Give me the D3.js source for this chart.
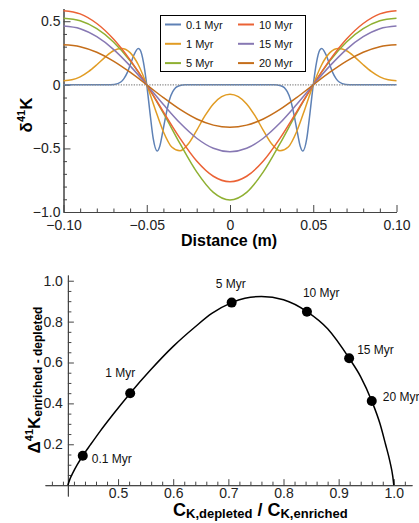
<!DOCTYPE html>
<html>
<head>
<meta charset="utf-8">
<script src="https://cdn.jsdelivr.net/npm/d3@7"></script>
<style>
body { margin: 0; background: #fff; }
svg { font-family: "Liberation Sans", Arial, sans-serif; }
.axis path, .axis line { stroke: #444; }
.axis text { fill: #222; font-size: 14px; }
</style>
</head>
<body>
<div id="chart"></div>
<script>

// ---- data: delta41K profiles (top panel) ----
var ages = ["0.1 Myr", "1 Myr", "5 Myr", "10 Myr", "15 Myr", "20 Myr"];

var distBlue = [-0.1, -0.074, -0.0695, -0.0656, -0.0637, -0.0617, -0.0598, -0.0578, -0.0551, -0.0539, -0.052,
	-0.05, -0.048, -0.0461, -0.0438, -0.0422, -0.0403, -0.0383, -0.0364, -0.0344, -0.0305, -0.0266,
	0,
	0.0266, 0.0305, 0.0344, 0.0364, 0.0383, 0.0403, 0.0422, 0.0438, 0.0461, 0.048, 0.05,
	0.052, 0.0539, 0.0551, 0.0578, 0.0598, 0.0617, 0.0637, 0.0656, 0.0695, 0.074, 0.1];
var delta01 = [0, 0, 0.003, 0.022, 0.049, 0.096, 0.161, 0.232, 0.286, 0.272, 0.179,
	0, -0.226, -0.424, -0.521, -0.484, -0.363, -0.226, -0.119, -0.053, -0.007, 0,
	0,
	0, -0.007, -0.053, -0.119, -0.226, -0.363, -0.484, -0.521, -0.424, -0.226, 0,
	0.179, 0.272, 0.286, 0.232, 0.161, 0.096, 0.049, 0.022, 0.003, 0, 0];

var distFine = [-0.1, -0.095, -0.09, -0.085, -0.08, -0.075, -0.07, -0.065, -0.06, -0.055,
	-0.05, -0.045, -0.04, -0.035, -0.03, -0.025, -0.02, -0.015, -0.01, -0.005,
	0, 0.005, 0.01, 0.015, 0.02, 0.025, 0.03, 0.035, 0.04, 0.045,
	0.05, 0.055, 0.06, 0.065, 0.07, 0.075, 0.08, 0.085, 0.09, 0.095, 0.1];
var delta1 = [0.031, 0.039, 0.063, 0.104, 0.158, 0.218, 0.268, 0.286, 0.253, 0.156,
	0, -0.190, -0.369, -0.489, -0.519, -0.464, -0.358, -0.243, -0.150, -0.093,
	-0.074, -0.093, -0.150, -0.243, -0.358, -0.464, -0.519, -0.489, -0.369, -0.190,
	0, 0.156, 0.253, 0.286, 0.268, 0.218, 0.158, 0.104, 0.063, 0.039, 0.031];

var distCoarse = [-0.1, -0.09, -0.08, -0.07, -0.06, -0.05, -0.04, -0.03, -0.02, -0.01,
	0, 0.01, 0.02, 0.03, 0.04, 0.05, 0.06, 0.07, 0.08, 0.09, 0.1];
var delta5 = [0.523, 0.503, 0.441, 0.337, 0.189, 0, -0.223, -0.463, -0.685, -0.846,
	-0.906, -0.846, -0.685, -0.463, -0.223, 0, 0.189, 0.337, 0.441, 0.503, 0.523];
var delta10 = [0.583, 0.558, 0.482, 0.360, 0.196, 0, -0.213, -0.421, -0.599, -0.719,
	-0.762, -0.719, -0.599, -0.421, -0.213, 0, 0.196, 0.360, 0.482, 0.558, 0.583];
var delta15 = [0.462, 0.441, 0.378, 0.279, 0.149, 0, -0.155, -0.301, -0.420, -0.499,
	-0.526, -0.499, -0.420, -0.301, -0.155, 0, 0.149, 0.279, 0.378, 0.441, 0.462];
var delta20 = [0.315, 0.300, 0.256, 0.187, 0.099, 0, -0.101, -0.194, -0.269, -0.317,
	-0.334, -0.317, -0.269, -0.194, -0.101, 0, 0.099, 0.187, 0.256, 0.300, 0.315];

// ---- data: Delta41K vs concentration ratio (bottom panel) ----
var ratioCurve = [0.409, 0.413, 0.418, 0.426, 0.436, 0.45, 0.467, 0.49, 0.522, 0.56, 0.60, 0.64, 0.67,
	0.706, 0.73, 0.76, 0.80, 0.8425, 0.88, 0.919, 0.94, 0.96, 0.975, 0.985, 0.993, 0.998, 1.0];
var bigDeltaCurve = [0, 0.032, 0.06, 0.10, 0.144, 0.198, 0.262, 0.343, 0.45, 0.567, 0.679, 0.775, 0.84,
	0.893, 0.914, 0.923, 0.907, 0.849, 0.765, 0.621, 0.53, 0.412, 0.30, 0.20, 0.115, 0.045, 0];
var ratioPts = [0.436, 0.522, 0.706, 0.8425, 0.919, 0.96];
var bigDeltaPts = [0.144, 0.45, 0.893, 0.848, 0.621, 0.412];

// ---- tick labels ----
var topXTicks = [-0.1, -0.05, 0, 0.05, 0.1];
var topXTickLabels = ["\u22120.10", "\u22120.05", "0", "0.05", "0.10"];
var topYTicks = [-1, -0.5, 0, 0.5];
var topYTickLabels = ["\u22121.0", "\u22120.5", "0", "0.5"];
var botXTicks = [0.5, 0.6, 0.7, 0.8, 0.9, 1.0];
var botXTickLabels = ["0.5", "0.6", "0.7", "0.8", "0.9", "1.0"];
var botYTicks = [0.2, 0.4, 0.6, 0.8, 1.0];
var botYTickLabels = ["0.2", "0.4", "0.6", "0.8", "1.0"];

var colors = ["#5E81B5", "#E19C24", "#8FB032", "#EB6235", "#8778B3", "#C56E1A"];

var series = [
	{ xs: distBlue, ys: delta01 },
	{ xs: distFine, ys: delta1 },
	{ xs: distCoarse, ys: delta5 },
	{ xs: distCoarse, ys: delta10 },
	{ xs: distCoarse, ys: delta15 },
	{ xs: distCoarse, ys: delta20 }
];

var isMajor = function(v, step) {
	return Math.abs(Math.round(v / step) * step - v) < 1e-6;
}

var svg = d3.select("#chart").append("svg")
	.attr("width", 419)
	.attr("height", 523);

// ================= top panel =================
var x = d3.scaleLinear().domain([-0.1, 0.1]).range([63.5, 396.5]);
var y = d3.scaleLinear().domain([-1, 0.6]).range([212, 8.5]);

var upper = svg.append("g");

// minor ticks
upper.append("g")
	.attr("class", "axis")
	.attr("transform", "translate(0," + y(-1) + ")")
	.call(d3.axisBottom(x)
		.tickValues(d3.range(-0.1, 0.1001, 0.01).filter(function(v) { return !isMajor(v, 0.05); }))
		.tickSizeInner(-3.5).tickSizeOuter(0).tickFormat(""));
upper.append("g")
	.attr("class", "axis")
	.attr("transform", "translate(" + x(-0.1) + ",0)")
	.call(d3.axisLeft(y)
		.tickValues(d3.range(-1, 0.6, 0.1).filter(function(v) { return !isMajor(v, 0.5); }))
		.tickSizeInner(-3.5).tickSizeOuter(0).tickFormat(""));

// major ticks + labels
upper.append("g")
	.attr("class", "axis")
	.attr("transform", "translate(0," + y(-1) + ")")
	.call(d3.axisBottom(x)
		.tickValues(topXTicks)
		.tickSizeInner(-7).tickSizeOuter(0).tickPadding(8)
		.tickFormat(function(d, i) { return topXTickLabels[i]; }));
upper.append("g")
	.attr("class", "axis")
	.attr("transform", "translate(" + x(-0.1) + ",0)")
	.call(d3.axisLeft(y)
		.tickValues(topYTicks)
		.tickSizeInner(-7).tickSizeOuter(0).tickPadding(3)
		.tickFormat(function(d, i) { return topYTickLabels[i]; }));

var line = d3.line()
	.x(function(d) { return x(d[0]); })
	.y(function(d) { return y(d[1]); })
	.curve(d3.curveMonotoneX);

series.forEach(function(s, i) {
	upper.append("path")
		.datum(s.xs.map(function(v, j) { return [v, s.ys[j]]; }))
		.attr("fill", "none")
		.attr("stroke", colors[i])
		.attr("stroke-width", 1.5)
		.attr("d", line);
});

// dotted zero line
upper.append("line")
	.attr("x1", x(-0.1)).attr("x2", x(0.1))
	.attr("y1", y(0)).attr("y2", y(0))
	.attr("stroke", "#8a8a8a")
	.attr("stroke-width", 1.3)
	.attr("stroke-dasharray", "1.3,1.3");

// axis titles
upper.append("text")
	.attr("x", 229).attr("y", 246)
	.attr("text-anchor", "middle")
	.attr("font-size", 16).attr("font-weight", "bold")
	.text("Distance (m)");

var yt = upper.append("text")
	.attr("transform", "translate(32,115)rotate(-90)")
	.attr("text-anchor", "middle")
	.attr("font-size", 17).attr("font-weight", "bold");
yt.append("tspan").text("\u03b4");
yt.append("tspan").attr("font-size", 11).attr("dy", -7).text("41");
yt.append("tspan").attr("dy", 7).text("K");

// legend
var legend = upper.append("g");
legend.append("rect")
	.attr("x", 160.5).attr("y", 15.5)
	.attr("width", 145).attr("height", 56)
	.attr("fill", "#fff").attr("stroke", "#000").attr("stroke-width", 1);

ages.forEach(function(a, i) {
	var col = Math.floor(i / 3), row = i % 3;
	var lx = col === 0 ? 165 : 238;
	var ly = 24.5 + row * 19.3;
	legend.append("line")
		.attr("x1", lx).attr("x2", lx + 16)
		.attr("y1", ly).attr("y2", ly)
		.attr("stroke", colors[i]).attr("stroke-width", 2);
	legend.append("text")
		.attr("x", lx + 21).attr("y", ly + 4)
		.attr("font-size", 11).attr("fill", "#111")
		.text(a);
});

// ================= bottom panel =================
var x2 = d3.scaleLinear().domain([0.3675, 1.033]).range([45, 412]);
var y2 = d3.scaleLinear().domain([-0.053, 1.028]).range([496, 275]);

var lower = svg.append("g");

lower.append("g")
	.attr("class", "axis")
	.attr("transform", "translate(0," + y2(0) + ")")
	.call(d3.axisBottom(x2)
		.tickValues(d3.range(0.38, 1.021, 0.02).filter(function(v) { return !isMajor(v, 0.1) || v < 0.45; }))
		.tickSizeInner(-3.5).tickSizeOuter(0).tickFormat(""));
lower.append("g")
	.attr("class", "axis")
	.attr("transform", "translate(0," + y2(0) + ")")
	.call(d3.axisBottom(x2)
		.tickValues(botXTicks)
		.tickSizeInner(-6).tickSizeOuter(0).tickPadding(3)
		.tickFormat(function(d, i) { return botXTickLabels[i]; }));

lower.append("g")
	.attr("class", "axis")
	.attr("transform", "translate(" + x2(0.409) + ",0)")
	.call(d3.axisLeft(y2)
		.tickValues(d3.range(0.05, 1.01, 0.05).filter(function(v) { return !isMajor(v, 0.2); }))
		.tickSizeInner(-3.5).tickSizeOuter(0).tickFormat(""));
lower.append("g")
	.attr("class", "axis")
	.attr("transform", "translate(" + x2(0.409) + ",0)")
	.call(d3.axisLeft(y2)
		.tickValues(botYTicks)
		.tickSizeInner(-6).tickSizeOuter(0).tickPadding(5)
		.tickFormat(function(d, i) { return botYTickLabels[i]; }));

var line2 = d3.line()
	.x(function(d) { return x2(d[0]); })
	.y(function(d) { return y2(d[1]); })
	.curve(d3.curveMonotoneX);

lower.append("path")
	.datum(ratioCurve.map(function(v, j) { return [v, bigDeltaCurve[j]]; }))
	.attr("fill", "none")
	.attr("stroke", "#000")
	.attr("stroke-width", 1.5)
	.attr("d", line2);

lower.selectAll("circle")
	.data(ratioPts)
	.enter()
	.append("circle")
	.attr("cx", function(d) { return x2(d); })
	.attr("cy", function(d, i) { return y2(bigDeltaPts[i]); })
	.attr("r", 5)
	.attr("fill", "#000");

// label placement relative to each point
var labelOffsets = [[9, 7], [-25, -16], [-16, -15], [-4, -14.5], [8, -4], [11, 0]];
lower.selectAll("text.age")
	.data(ages)
	.enter()
	.append("text")
	.attr("class", "age")
	.attr("x", function(d, i) { return x2(ratioPts[i]) + labelOffsets[i][0]; })
	.attr("y", function(d, i) { return y2(bigDeltaPts[i]) + labelOffsets[i][1]; })
	.attr("font-size", 12).attr("fill", "#111")
	.text(function(d) { return d; });

// axis titles
var xt = lower.append("text")
	.attr("x", 173).attr("y", 516)
	.attr("font-weight", "bold").attr("font-size", 18);
xt.append("tspan").text("C");
xt.append("tspan").attr("font-size", 13).attr("dy", 2).text("K,depleted");
xt.append("tspan").attr("dy", -2).text(" / C");
xt.append("tspan").attr("font-size", 13).attr("dy", 2).text("K,enriched");

var yt2 = lower.append("text")
	.attr("transform", "translate(40,380)rotate(-90)")
	.attr("text-anchor", "middle")
	.attr("font-weight", "bold").attr("font-size", 17);
yt2.append("tspan").text("\u0394");
yt2.append("tspan").attr("font-size", 11).attr("dy", -7).text("41");
yt2.append("tspan").attr("dy", 7).text("K");
yt2.append("tspan").attr("font-size", 12).attr("dy", 2).text("enriched - depleted");

</script>
</body>
</html>
